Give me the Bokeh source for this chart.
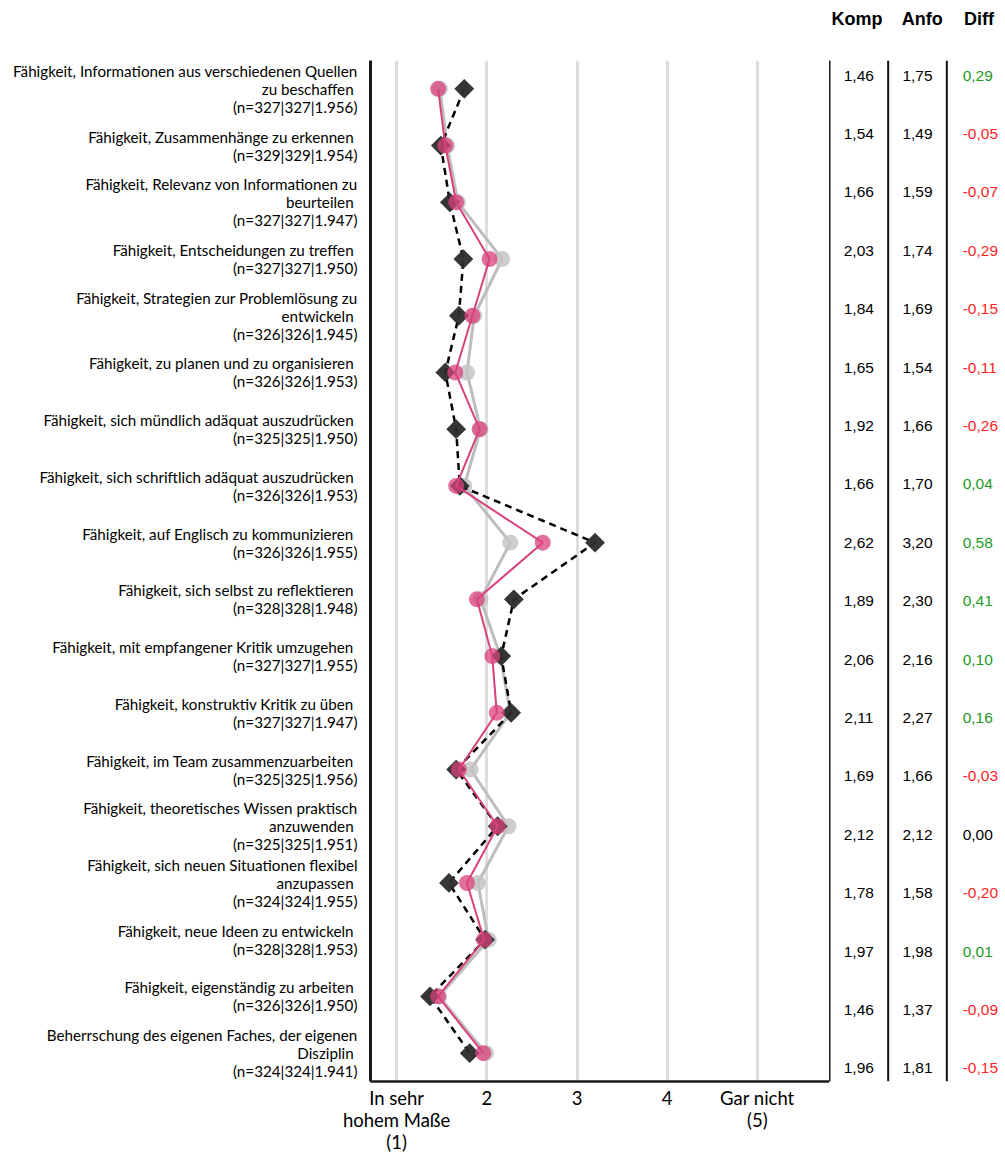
from bokeh.plotting import figure
from bokeh.layouts import row
from bokeh.models import FactorRange, Range1d, LinearAxis, FixedTicker, Span, ColumnDataSource
from bokeh.core.properties import value
from bokeh.embed import file_html
from bokeh.resources import INLINE
import math

labels = [
    "Fähigkeit, Informationen aus verschiedenen Quellen\nzu beschaffen \n(n=327|327|1.956)",
    "Fähigkeit, Zusammenhänge zu erkennen \n(n=329|329|1.954)",
    "Fähigkeit, Relevanz von Informationen zu\nbeurteilen \n(n=327|327|1.947)",
    "Fähigkeit, Entscheidungen zu treffen \n(n=327|327|1.950)",
    "Fähigkeit, Strategien zur Problemlösung zu\nentwickeln \n(n=326|326|1.945)",
    "Fähigkeit, zu planen und zu organisieren \n(n=326|326|1.953)",
    "Fähigkeit, sich mündlich adäquat auszudrücken \n(n=325|325|1.950)",
    "Fähigkeit, sich schriftlich adäquat auszudrücken \n(n=326|326|1.953)",
    "Fähigkeit, auf Englisch zu kommunizieren \n(n=326|326|1.955)",
    "Fähigkeit, sich selbst zu reflektieren \n(n=328|328|1.948)",
    "Fähigkeit, mit empfangener Kritik umzugehen \n(n=327|327|1.955)",
    "Fähigkeit, konstruktiv Kritik zu üben \n(n=327|327|1.947)",
    "Fähigkeit, im Team zusammenzuarbeiten \n(n=325|325|1.956)",
    "Fähigkeit, theoretisches Wissen praktisch\nanzuwenden \n(n=325|325|1.951)",
    "Fähigkeit, sich neuen Situationen flexibel\nanzupassen \n(n=324|324|1.955)",
    "Fähigkeit, neue Ideen zu entwickeln \n(n=328|328|1.953)",
    "Fähigkeit, eigenständig zu arbeiten \n(n=326|326|1.950)",
    "Beherrschung des eigenen Faches, der eigenen\nDisziplin \n(n=324|324|1.941)",
]

komp = [1.46, 1.54, 1.66, 2.03, 1.84, 1.65, 1.92, 1.66, 2.62, 1.89, 2.06, 2.11, 1.69, 2.12, 1.78, 1.97, 1.46, 1.96]
anfo = [1.75, 1.49, 1.59, 1.74, 1.69, 1.54, 1.66, 1.70, 3.20, 2.30, 2.16, 2.27, 1.66, 2.12, 1.58, 1.98, 1.37, 1.81]
vergleich = [1.48, 1.56, 1.68, 2.17, 1.86, 1.78, 1.93, 1.75, 2.26, 1.93, 2.15, 2.26, 1.82, 2.24, 1.90, 2.02, 1.47, 1.99]
diff = [0.29, -0.05, -0.07, -0.29, -0.15, -0.11, -0.26, 0.04, 0.58, 0.41, 0.10, 0.16, -0.03, 0.00, -0.20, 0.01, -0.09, -0.15]

x_ticks = [1, 2, 3, 4, 5]
x_tick_labels = ["In sehr\nhohem Maße\n(1)", "2", "3", "4", "Gar nicht\n(5)"]
columns = ["Komp", "Anfo", "Diff"]

PINK = "#d9417e"
GRAY = "#c4c4c4"
DARK = "#2b2b2b"

H = 1156
TOP = 60
BOTTOM = 75

# ---------------- chart ----------------
p = figure(width=829, height=H, y_range=FactorRange(factors=labels[::-1]),
           x_range=Range1d(0.71, 5.8), output_backend="svg", toolbar_location=None,
           min_border_left=370, min_border_right=0, min_border_top=TOP, min_border_bottom=BOTTOM)
p.outline_line_color = None
p.background_fill_color = "white"

p.xgrid.ticker = FixedTicker(ticks=x_ticks)
p.xgrid.grid_line_color = "#dedede"
p.xgrid.grid_line_width = 3
p.ygrid.grid_line_color = None

xa = p.xaxis[0]
xa.ticker = FixedTicker(ticks=x_ticks)
xa.major_label_overrides = {t: l for t, l in zip(x_ticks, x_tick_labels)}
xa.axis_line_width = 2.5
xa.axis_line_color = "#1a1a1a"
xa.major_tick_line_color = None
xa.minor_tick_line_color = None
xa.major_tick_out = 0
xa.minor_tick_out = 0
xa.major_label_text_font = "Lato"
xa.major_label_text_font_size = "18.5px"
xa.major_label_text_color = "black"
xa.major_label_text_line_height = 1.0
xa.major_label_standoff = 5

ya = p.yaxis[0]
ya.axis_line_width = 3
ya.axis_line_color = "#1a1a1a"
ya.major_tick_line_color = None
ya.minor_tick_line_color = None
ya.major_tick_out = 0
ya.minor_tick_out = 0
ya.major_label_text_font = "Lato"
ya.major_label_text_font_size = "15.2px"
ya.major_label_text_color = "black"
ya.major_label_text_line_height = 1.0
ya.major_label_standoff = 13

src = ColumnDataSource(dict(label=labels, komp=komp, anfo=anfo, vergleich=vergleich))

p.line("vergleich", "label", source=src, line_color="#bdbdbd", line_width=3)
p.scatter("vergleich", "label", source=src, marker="circle", size=16,
          fill_color=GRAY, fill_alpha=0.85, line_color=None)

p.line("anfo", "label", source=src, line_color="black", line_width=2.5, line_dash="7 5")
p.scatter("anfo", "label", source=src, marker="square", angle=math.pi / 4, size=14,
          fill_color=DARK, fill_alpha=0.95, line_color=None)

p.line("komp", "label", source=src, line_color=PINK, line_width=2)
p.scatter("komp", "label", source=src, marker="circle", size=16,
          fill_color=PINK, fill_alpha=0.75, line_color=None)

# ---------------- table ----------------
n = len(labels)
t = figure(width=176, height=H, x_range=Range1d(0, 3), y_range=Range1d(17.223, -0.257),
           output_backend="svg", toolbar_location=None, x_axis_location=None, y_axis_location=None,
           min_border_left=0, min_border_right=0, min_border_top=TOP, min_border_bottom=BOTTOM)
t.outline_line_color = None
t.xgrid.grid_line_color = None
t.ygrid.grid_line_color = None

# border line between chart and table
border = LinearAxis(ticker=FixedTicker(ticks=[]), axis_line_width=2, axis_line_color="#1a1a1a",
                    major_tick_out=0, minor_tick_out=0, major_tick_in=0, minor_tick_in=0,
                    major_label_standoff=0)
t.add_layout(border, "left")

head_ticks = [0.47, 1.58, 2.55]
head = LinearAxis(ticker=FixedTicker(ticks=head_ticks),
                  major_label_overrides={k: c for k, c in zip(head_ticks, columns)},
                  axis_line_color=None, major_tick_line_color=None, minor_tick_line_color=None,
                  major_tick_out=0, minor_tick_out=0,
                  major_label_standoff=32, major_label_text_font="Liberation Sans",
                  major_label_text_font_style="bold", major_label_text_font_size="18px",
                  major_label_text_color="black")
t.add_layout(head, "above")

for i in range(1, len(columns)):
    t.add_layout(Span(location=i, dimension="height", line_color="#111111", line_width=2))


def fmt(v):
    return f"{v:.2f}".replace(".", ",")


def dcol(v):
    if v > 0.0001:
        return "#1f9a1f"
    if v < -0.0001:
        return "#ff1f1f"
    return "black"


rows_idx = list(range(n))
t.text(x=[0.5] * n, y=rows_idx, text=[fmt(v) for v in komp], text_color="black",
       text_align="center", text_baseline="middle", text_font=value("Liberation Sans"),
       text_font_size="15.5px")
t.text(x=[1.5] * n, y=rows_idx, text=[fmt(v) for v in anfo], text_color="black",
       text_align="center", text_baseline="middle", text_font=value("Liberation Sans"),
       text_font_size="15.5px")
t.text(x=[2.27] * n, y=rows_idx, text=[fmt(v) for v in diff], text_color=[dcol(v) for v in diff],
       text_align="left", text_baseline="middle", text_font=value("Liberation Sans"),
       text_font_size="15.5px")

layout = row(p, t)
open("out.html", "w").write(file_html(layout, INLINE))
